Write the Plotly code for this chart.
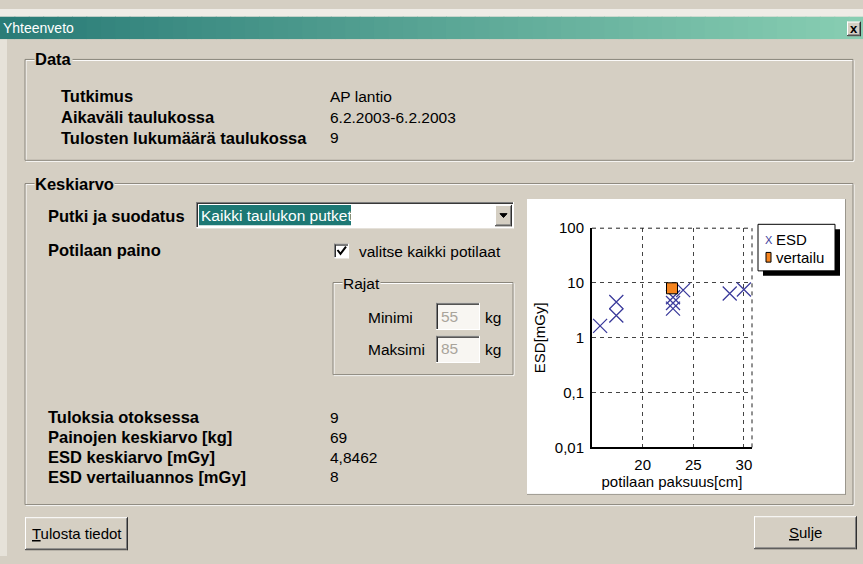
import plotly.graph_objects as go

# ---------------- data ----------------
thickness_cm = [15.8, 17.4, 17.4, 23.0, 23.0, 23.0, 24.0, 28.6, 30.0]
esd_mgy = [1.65, 2.55, 4.5, 3.4, 4.3, 5.5, 7.4, 6.45, 7.6]
ref_thickness = [22.9]
ref_esd = [8.0]
y_tickvals = [0.01, 0.1, 1, 10, 100]
y_ticktext = ["0,01", "0,1", "1", "10", "100"]
x_tickvals = [20, 25, 30]
x_ticktext = ["20", "25", "30"]

data_labels = ["Tutkimus", "Aikaväli taulukossa", "Tulosten lukumäärä taulukossa"]
data_values = ["AP lantio", "6.2.2003-6.2.2003", "9"]
result_labels = ["Tuloksia otoksessa", "Painojen keskiarvo [kg]", "ESD keskiarvo [mGy]", "ESD vertailuannos [mGy]"]
result_values = ["9", "69", "4,8462", "8"]

# ---------------- helpers ----------------
W, H = 863, 564
BG = "#d5cfc3"
DARK = "#8a867c"
FONT = "Liberation Sans, Arial, sans-serif"
shapes = []
annotations = []


def fx(x):
    return x / W


def fy(y):
    return 1 - y / H


def rect(x0, y0, x1, y1, fill=None, line=None, lw=1, layer="below"):
    shapes.append(dict(type="rect", xref="paper", yref="paper", layer=layer,
                       x0=fx(x0), x1=fx(x1), y0=fy(y0), y1=fy(y1),
                       fillcolor=fill if fill else "rgba(0,0,0,0)",
                       line=dict(color=line if line else "rgba(0,0,0,0)", width=lw if line else 0)))


def seg(x0, y0, x1, y1, color, lw=1, layer="below", dash=None):
    d = dict(color=color, width=lw)
    if dash:
        d["dash"] = dash
    shapes.append(dict(type="line", xref="paper", yref="paper", layer=layer,
                       x0=fx(x0), x1=fx(x1), y0=fy(y0), y1=fy(y1), line=d))


def text(x, y, s, size=15.5, color="black", bold=False, anchor="left", bg=None, family=FONT):
    a = dict(x=fx(x), y=fy(y), xref="paper", yref="paper", text=(f"<b>{s}</b>" if bold else s),
             showarrow=False, xanchor=anchor, yanchor="middle",
             font=dict(family=family, size=size, color=color), borderpad=0)
    if bg:
        a["bgcolor"] = bg
    annotations.append(a)


def etched(x0, y0, x1, y1):
    rect(x0 + 1, y0 + 1, x1 + 1, y1 + 1, line="white")
    rect(x0, y0, x1, y1, line=DARK)


def raised(x0, y0, x1, y1):
    rect(x0, y0, x1, y1, fill=BG)
    seg(x0, y0 + 0.5, x1, y0 + 0.5, "white")
    seg(x0 + 0.5, y0, x0 + 0.5, y1, "white")
    seg(x0, y1 - 0.5, x1, y1 - 0.5, "#303030")
    seg(x1 - 0.5, y0, x1 - 0.5, y1, "#303030")
    seg(x0 + 1, y1 - 1.5, x1 - 1, y1 - 1.5, "#808080")
    seg(x1 - 1.5, y0 + 1, x1 - 1.5, y1 - 1, "#808080")


def sunken(x0, y0, x1, y1, fill="white"):
    rect(x0, y0, x1, y1, fill=fill)
    seg(x0, y0 + 0.5, x1, y0 + 0.5, "#808080")
    seg(x0 + 0.5, y0, x0 + 0.5, y1, "#808080")
    seg(x0 + 1, y0 + 1.5, x1 - 1, y0 + 1.5, "#303030")
    seg(x0 + 1.5, y0 + 1, x0 + 1.5, y1 - 1, "#303030")
    seg(x0, y1 - 0.5, x1, y1 - 0.5, "white")
    seg(x1 - 0.5, y0, x1 - 0.5, y1, "white")


# ---------------- window frame ----------------
rect(0, 0, W, 8, fill="#efece6")
rect(0, 8, 7, H, fill="#e6e2d9")
# title bar gradient
n = 60
c0 = (42, 124, 119)
c1 = (136, 206, 178)
for i in range(n):
    t = i / (n - 1)
    c = tuple(int(c0[k] + (c1[k] - c0[k]) * t) for k in range(3))
    rect(i * W / n, 8, (i + 1) * W / n + 1, 31, fill="rgb(%d,%d,%d)" % c)
text(2, 20, "Yhteenveto", size=14, color="white")
raised(847, 13, 861, 28)
text(854, 20, "x", size=13, bold=True, anchor="center")

# ---------------- Data group ----------------
etched(25, 52, 853, 156)
text(34, 52, "Data", size=16.5, bold=True, bg=BG)
for i, (lab, val) in enumerate(zip(data_labels, data_values)):
    yy = 90 + i * 21.5
    text(60, yy, lab, size=16.5, bold=True)
    text(329, yy, val, size=15.5)

# ---------------- Keskiarvo group ----------------
etched(25, 180, 853, 511)
text(34, 180, "Keskiarvo", size=16.5, bold=True, bg=BG)
text(47, 213, "Putki ja suodatus", size=16.5, bold=True)
text(47, 249, "Potilaan paino", size=16.5, bold=True)

# combobox
sunken(196, 199, 514, 226)
rect(199, 202, 351, 223, fill="#1d7874")
text(200, 212.5, "Kaikki taulukon putket", size=15.5, color="white")
raised(495, 202, 512, 224)
shapes.append(dict(type="path", xref="paper", yref="paper", layer="below",
                   path="M %f %f L %f %f L %f %f Z" % (fx(500), fy(211), fx(507), fy(211), fx(503.5), fy(215)),
                   fillcolor="black", line=dict(color="black", width=1)))

# checkbox
sunken(334, 242, 349, 257)
shapes.append(dict(type="path", xref="paper", yref="paper", layer="below",
                   path="M %f %f L %f %f L %f %f" % (fx(337.5), fy(248.5), fx(340.5), fy(252.5), fx(346), fy(245)),
                   line=dict(color="black", width=2)))
text(358, 250, "valitse kaikki potilaat", size=15.5)

# Rajat group
etched(333, 282, 513, 377)
text(342, 283, "Rajat", size=15.5, bg=BG)
text(367, 318, "Minimi", size=15.5)
text(367, 351, "Maksimi", size=15.5)
sunken(436, 303, 480, 331, fill="#f8f6f2")
sunken(436, 337, 480, 365, fill="#f8f6f2")
text(440, 317, "55", size=15.5, color="#a9a49b")
text(440, 350, "85", size=15.5, color="#a9a49b")
text(484, 318, "kg", size=15.5)
text(484, 351, "kg", size=15.5)

# results
for i, (lab, val) in enumerate(zip(result_labels, result_values)):
    yy = 421 + i * 20.5
    text(47, yy, lab, size=16.5, bold=True)
    text(329, yy, val, size=15.5)

# buttons
raised(25, 524, 128, 558)
text(76.5, 541, "<u>T</u>ulosta tiedot", size=15, anchor="center")
raised(754, 523, 857, 557)
text(805.5, 540, "<u>S</u>ulje", size=15, anchor="center")

# ---------------- chart panel ----------------
rect(527, 196, 846, 501, fill="white")
seg(527, 500.5, 846, 500.5, "#9a968c")
seg(845.5, 196, 845.5, 501, "#9a968c")

# chart frame (dashed top/right)
shapes.append(dict(type="line", xref="x domain", yref="y domain", layer="above",
                   x0=1, x1=1, y0=0, y1=1, line=dict(color="#222", width=1, dash="4px,4px")))
shapes.append(dict(type="line", xref="x domain", yref="y domain", layer="above",
                   x0=0, x1=1, y0=1, y1=1, line=dict(color="#222", width=1, dash="4px,4px")))

# manual legend
rect(763, 227, 840, 275, fill="black", layer="above")
rect(758, 222, 835, 270, fill="white", line="black", layer="above")
text(764, 238, "X", size=11, color="#3c3c9c")
text(775, 238, "ESD", size=15)
rect(766, 251, 771, 261, fill="#f5841f", line="black", layer="above")
text(775, 256, "vertailu", size=15)

# ---------------- traces ----------------
fig = go.Figure()
fig.add_trace(go.Scatter(x=thickness_cm, y=esd_mgy, mode="markers", name="ESD",
                         marker=dict(symbol="x-thin-open", size=14, color="#3c3c9c",
                                     line=dict(color="#3c3c9c", width=1.3)),
                         showlegend=False))
fig.add_trace(go.Scatter(x=ref_thickness, y=ref_esd, mode="markers", name="vertailu",
                         marker=dict(symbol="square", size=11, color="#f5841f",
                                     line=dict(color="black", width=1)),
                         showlegend=False))

fig.update_layout(
    width=W, height=H, autosize=False,
    margin=dict(l=0, r=0, t=0, b=0),
    paper_bgcolor=BG, plot_bgcolor="white",
    shapes=shapes, annotations=annotations,
    font=dict(family=FONT, size=15, color="black"),
    xaxis=dict(domain=[fx(592), fx(752)], range=[15, 30.8], tickvals=x_tickvals, ticktext=x_ticktext,
               showgrid=True, gridcolor="#444", griddash="4px,4px", gridwidth=1,
               showline=True, linecolor="black", linewidth=2, ticks="", zeroline=False,
               tickfont=dict(size=15), ticklabelstandoff=3,
               title=dict(text="potilaan paksuus[cm]", font=dict(size=15), standoff=4)),
    yaxis=dict(domain=[fy(452), fy(226)], type="log", range=[-2, 2],
               tickvals=y_tickvals, ticktext=y_ticktext,
               showgrid=True, gridcolor="#444", griddash="4px,4px", gridwidth=1,
               showline=True, linecolor="black", linewidth=2, ticks="", zeroline=False,
               tickfont=dict(size=15), ticklabelstandoff=3,
               title=dict(text="ESD[mGy]", font=dict(size=15), standoff=6)),
)

fig.write_html("out.html", config={"displayModeBar": False},
               post_script="document.body.style.margin='0';document.body.style.overflow='hidden';")
